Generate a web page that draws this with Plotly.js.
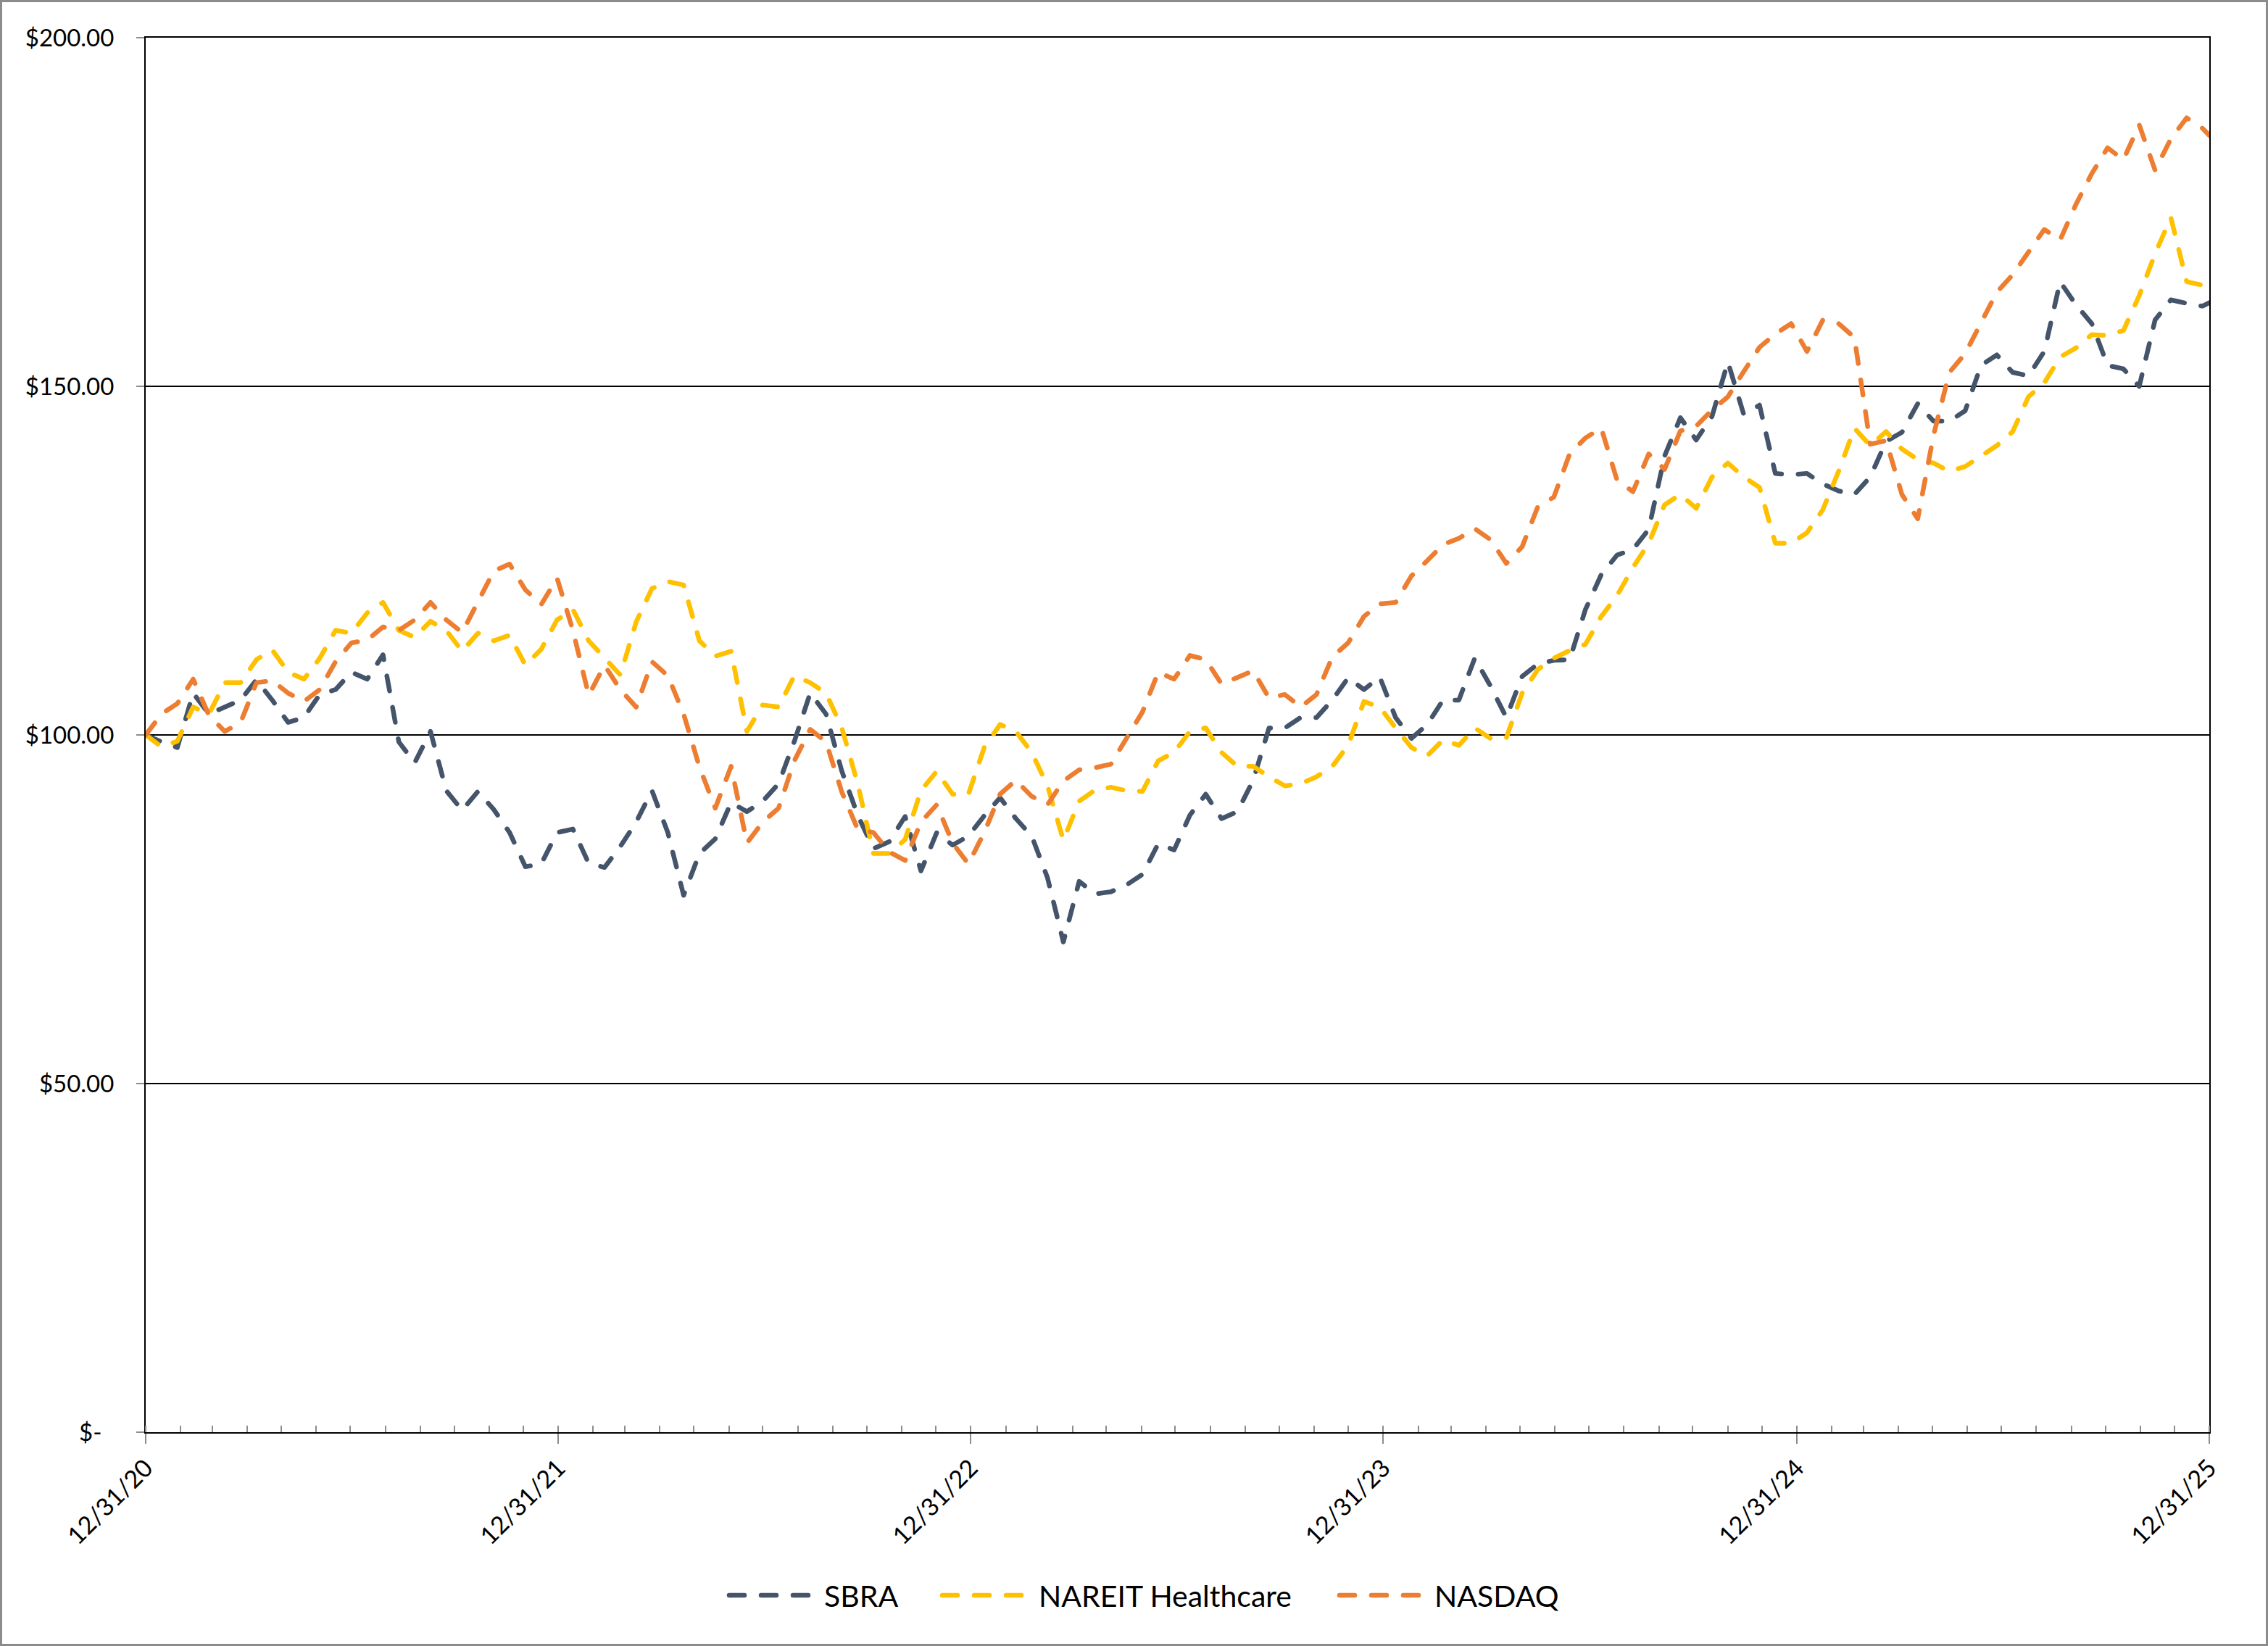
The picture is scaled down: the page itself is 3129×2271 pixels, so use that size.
<!DOCTYPE html>
<html>
<head>
<meta charset="utf-8">
<script src="https://cdn.plot.ly/plotly-3.0.1.min.js"></script>
<style>
  body { margin: 0; background: #fff; }
  #chart { width: 3129px; height: 2271px; }
  #frame { position: absolute; left: 0; top: 0; width: 3129px; height: 2271px;
           box-sizing: border-box; border: 3px solid #8c8c8c; pointer-events: none; }
  .js-line, .shapelayer path { stroke-linecap: round; stroke-linejoin: round; }
</style>
</head>
<body>
<div id="chart"></div>
<div id="frame"></div>
<script>
// Cumulative value of $100 invested on 12/31/20, read every two weeks
var seriesNames = ['SBRA', 'NAREIT Healthcare', 'NASDAQ']
var seriesColors = ['#44546A', '#FFC000', '#ED7D31']

var sbra = [100, 99, 98.2, 106, 103, 104, 105, 107.9, 105, 101.8,
  102.5, 105.8, 106.5, 109, 108, 111.5, 99, 96, 100.5, 92,
  89.2, 91.9, 89.3, 86, 81.1, 81.5, 86, 86.5, 81.6, 81,
  84, 87.5, 92, 86, 77, 83, 85.1, 90.3, 89, 90.5,
  93, 99.1, 106, 103, 94.8, 88.5, 83.7, 84.7, 88.3, 80.5,
  86, 84.2, 85.5, 88.4, 91, 88, 85.5, 79.5, 70.3, 79,
  77.2, 77.5, 78.5, 80, 84.4, 83.5, 88.5, 91.5, 88, 89,
  93.5, 101, 101, 102.5, 102.5, 105, 108.2, 106.5, 108.3, 102.5,
  99.5, 101.5, 105, 105, 111, 107, 102.5, 108.4, 110.2, 110.7,
  110.8, 118, 123, 125.8, 126.6, 129.5, 140, 145.5, 142.3, 145.7,
  153.5, 146, 147.3, 137.5, 137.3, 137.5, 136, 135, 134.5, 137,
  142.1, 143.4, 147.5, 145, 145, 146.5, 153, 154.5, 152, 151.5,
  155, 165, 161.7, 159, 153, 152.5, 150, 159.5, 162.4, 161.9,
  161.5, 162]

var nareit = [100, 98.3, 99.1, 104, 103, 107.5, 107.5, 110.8, 112.2, 109,
  108, 111, 115, 114.6, 117.5, 119, 115, 114, 116.3, 115,
  112, 114.6, 113.5, 114.3, 110, 112.3, 116.5, 118, 113.5, 111,
  108.6, 116.2, 121, 122, 121.5, 113.5, 111.3, 112, 100.5, 104.3,
  104, 108.5, 107.5, 106, 101, 93, 83, 83, 85, 92,
  94.8, 91.5, 91.5, 98.2, 101.5, 100.5, 97.5, 92.7, 84.9, 90.5,
  92.1, 92.5, 92, 91.9, 96.3, 97.5, 100.5, 101, 97.5, 95.5,
  95.5, 94, 92.7, 93, 94, 95.5, 98.5, 104.8, 104, 101,
  98.2, 97, 99.3, 98.5, 101, 99.5, 99.6, 106, 109.4, 111,
  112.1, 113, 117, 120, 124, 127.5, 133, 134.5, 132.5, 137,
  139, 137, 135.5, 127.5, 127.5, 129, 132.3, 137.8, 144, 141.5,
  143.5, 141, 139.5, 139, 137.8, 138.5, 140.1, 141.5, 143.5, 148.5,
  150.5, 154.2, 155.5, 157.4, 157.3, 158, 163, 169, 174.2, 165,
  164.5, 164.6]

var nasdaq = [100, 103, 104.5, 108, 102.8, 100.5, 101.8, 107.5, 107.8, 106,
  104.8, 106.5, 110.5, 113.2, 113.6, 115.5, 115, 116.5, 119, 116.5,
  114.7, 119.2, 123.5, 124.5, 120.8, 118.7, 122.5, 115, 105.7, 110,
  106.5, 104, 110.5, 108.5, 103, 95.4, 89.5, 95.5, 84.5, 87.5,
  89.5, 96.3, 100.8, 99, 91.8, 86.5, 86, 83.2, 82, 87.5,
  90, 84.5, 81.5, 86, 91.5, 93.5, 91.2, 90, 93.4, 95,
  95.3, 95.8, 99.7, 103.3, 109, 108, 111.4, 110.8, 107.3, 108.2,
  109.2, 105.3, 105.8, 104, 105.8, 111.2, 113.2, 117, 118.8, 119,
  122.8, 125, 127.3, 128.2, 129.6, 128, 124.6, 127, 132.8, 134.1,
  140.3, 142.6, 144, 136.5, 134.9, 140.3, 138.1, 143.6, 144.3, 146.6,
  148.5, 152.1, 155.6, 157.5, 159, 155, 159.5, 159, 157, 141.7,
  142.2, 134.5, 131, 143, 152, 154.7, 159, 163.5, 166, 169.3,
  172.5, 171, 176.1, 180.5, 184.2, 182.5, 187.5, 181, 185.5, 188.5,
  187, 186]

var yearTicks = ['2020-12-31', '2021-12-31', '2022-12-31', '2023-12-31', '2024-12-31', '2025-12-31']
var yearLabels = ['12/31/20', '12/31/21', '12/31/22', '12/31/23', '12/31/24', '12/31/25']
var yTicks = [0, 50, 100, 150, 200]
var yLabels = ['$-\u00a0\u00a0', '$50.00', '$100.00', '$150.00', '$200.00']

// dates: every 14 days from the start, last point on 12/31/25
var dates = []
var start = Date.UTC(2020, 11, 31)
for (let i = 0; i < sbra.length - 1; i++) {
    dates.push(new Date(start + i * 14 * 86400000).toISOString().slice(0, 10))
}
dates.push('2025-12-31')

var allValues = [sbra, nareit, nasdaq]
var dashStyle = '21px,23px'
var font = 'Lato, "Open Sans", sans-serif'

var traces = []
for (let s = 0; s < allValues.length; s++) {
    traces.push({
        x: dates,
        y: allValues[s],
        name: seriesNames[s],
        mode: 'lines',
        line: { color: seriesColors[s], width: 6.5, dash: dashStyle },
        showlegend: false
    })
}

//Hand-made legend below the plot
var plotLeft = 201, plotWidth = 2847, plotBottom = 1976, plotHeight = 1924
function px(x) { return (x - plotLeft) / plotWidth }
var legendY = (plotBottom - 2201) / plotHeight
var legendLine = [[1006, 1122], [1300, 1417], [1848, 1964]]
var legendText = [1135, 1431, 1977]

var shapes = []
var annotations = []
for (let s = 0; s < seriesNames.length; s++) {
    shapes.push({
        type: 'line', xref: 'paper', yref: 'paper',
        x0: px(legendLine[s][0]), x1: px(legendLine[s][1]), y0: legendY, y1: legendY,
        line: { color: seriesColors[s], width: 6.5, dash: dashStyle }
    })
    annotations.push({
        xref: 'paper', yref: 'paper', x: px(legendText[s]), y: legendY,
        xanchor: 'left', yanchor: 'middle', showarrow: false,
        text: seriesNames[s], font: { family: font, size: 41, color: '#000' }
    })
}

var layout = {
    width: 3129,
    height: 2271,
    margin: { l: 201, r: 81, t: 52, b: 295 },
    paper_bgcolor: '#fff',
    plot_bgcolor: '#fff',
    showlegend: false,
    font: { family: font, color: '#000' },
    xaxis: {
        type: 'date',
        range: ['2020-12-31', '2025-12-31'],
        tickmode: 'array',
        tickvals: yearTicks,
        ticktext: yearLabels,
        tickangle: -45,
        tickfont: { family: font, size: 34, color: '#000' },
        ticks: 'outside',
        ticklen: 14,
        tickwidth: 2,
        tickcolor: '#8c8c8c',
        showgrid: false,
        zeroline: false,
        showline: true,
        linecolor: '#000',
        linewidth: 2,
        mirror: true,
        minor: {
            ticks: 'inside',
            ticklen: 9,
            tickwidth: 2,
            tickcolor: '#8c8c8c',
            tick0: '2020-12-31',
            dtick: 'M1',
            showgrid: false
        }
    },
    yaxis: {
        range: [0, 200],
        tickmode: 'array',
        tickvals: yTicks,
        ticktext: yLabels,
        tickfont: { family: font, size: 33, color: '#000' },
        ticks: 'outside',
        ticklen: 11,
        tickwidth: 2,
        tickcolor: '#8c8c8c',
        ticklabelstandoff: 24,
        showgrid: true,
        gridcolor: '#000',
        gridwidth: 2,
        zeroline: false,
        showline: true,
        linecolor: '#000',
        linewidth: 2,
        mirror: true
    },
    shapes: shapes,
    annotations: annotations
}

Plotly.newPlot('chart', traces, layout, { displayModeBar: false, staticPlot: true })
</script>
</body>
</html>
